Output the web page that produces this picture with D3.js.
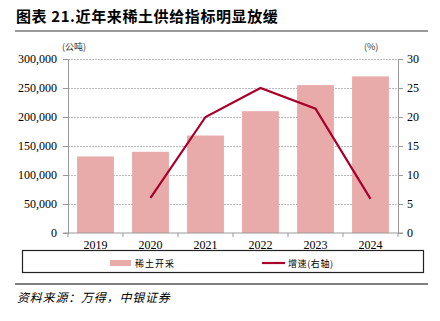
<!DOCTYPE html>
<html><head><meta charset="utf-8">
<script src="https://cdn.jsdelivr.net/npm/d3@7"></script>
<style>body{margin:0;background:#fff}svg{display:block}</style>
</head><body>
<script>
const years = ["2019","2020","2021","2022","2023","2024"];
const quota = [132000,140000,168000,210000,255000,270000];
const growth = [null,6.06,20.0,25.0,21.43,5.88];
const leftTicks = [0,50000,100000,150000,200000,250000,300000];
const rightTicks = [0,5,10,15,20,25,30];

const W=440,H=321;
const m={l:68,r:42,t:59,b:88};
const svg=d3.select("body").append("svg").attr("width",W).attr("height",H);
const cjk="'Noto Sans CJK SC',sans-serif";
const serif="'Liberation Serif','DejaVu Serif',serif";

svg.append("text").attr("x",16).attr("y",22).attr("font-family",cjk).attr("font-weight","bold")
  .attr("font-size",15).attr("letter-spacing",0.6).attr("fill","#000").text("图表 21.近年来稀土供给指标明显放缓");
svg.append("line").attr("x1",15).attr("x2",428).attr("y1",31).attr("y2",31).attr("stroke","#777").attr("stroke-width",1.5);

const x=d3.scaleBand().domain(years).range([m.l,W-m.r]).paddingInner(0.33).paddingOuter(0.165);
const y=d3.scaleLinear().domain([0,300000]).range([H-m.b,m.t]);
const y2=d3.scaleLinear().domain([0,30]).range([H-m.b,m.t]);

// grid
svg.append("g").selectAll("line").data(leftTicks.slice(1)).join("line")
  .attr("x1",m.l).attr("x2",W-m.r).attr("y1",d=>y(d)+0.5).attr("y2",d=>y(d)+0.5)
  .attr("stroke","#aaa").attr("stroke-dasharray","2,1").attr("stroke-width",0.8);

// bars
svg.append("g").selectAll("rect").data(years).join("rect")
  .attr("x",d=>x(d)).attr("width",x.bandwidth())
  .attr("y",(d,i)=>y(quota[i])).attr("height",(d,i)=>y(0)-y(quota[i]))
  .attr("fill","#E9AAAA");

// axes
const ax=svg.append("g").attr("transform",`translate(${m.l},0)`)
  .call(d3.axisLeft(y).tickValues(leftTicks).tickFormat(d3.format(",")).tickSize(5).tickPadding(6));
const ax2=svg.append("g").attr("transform",`translate(${W-m.r},0)`)
  .call(d3.axisRight(y2).tickValues(rightTicks).tickSize(5).tickPadding(4));
const xb=d3.scalePoint().domain(d3.range(7)).range([m.l,W-m.r]);
const axb=svg.append("g").attr("transform",`translate(0,${H-m.b})`);
axb.append("line").attr("x1",m.l-5).attr("x2",W-m.r+5).attr("stroke","#999");
axb.selectAll("line.t").data(d3.range(7)).join("line").attr("class","t")
  .attr("x1",d=>xb(d)).attr("x2",d=>xb(d)).attr("y1",0).attr("y2",4).attr("stroke","#999");
axb.selectAll("text").data(years).join("text")
  .attr("x",d=>x(d)+x.bandwidth()/2).attr("y",16).attr("text-anchor","middle")
  .attr("font-family",serif).attr("font-size",12).attr("fill","#000").text(d=>d);
[ax,ax2].forEach(g=>{
  g.select(".domain").attr("stroke","#999");
  g.selectAll(".tick line").attr("stroke","#999");
  g.selectAll(".tick text").attr("font-family",serif).attr("font-size",12).attr("fill","#000");
});

// line
const pts=years.map((d,i)=>[x(d)+x.bandwidth()/2,growth[i]]).filter(p=>p[1]!=null);
svg.append("path").datum(pts).attr("fill","none").attr("stroke","#A8002A").attr("stroke-width",2.2)
  .attr("d",d3.line().x(p=>p[0]).y(p=>y2(p[1])));

// units
svg.append("text").attr("x",62).attr("y",50).attr("font-family",cjk).attr("font-size",9).attr("fill","#333").text("(公吨)");
svg.append("text").attr("x",364).attr("y",50).attr("font-family",cjk).attr("font-size",9).attr("fill","#333").text("(%)");

// legend
svg.append("rect").attr("x",22.5).attr("y",250.5).attr("width",401).attr("height",22).attr("fill","none").attr("stroke","#222").attr("stroke-width",1.2);
svg.append("rect").attr("x",110).attr("y",260).attr("width",21).attr("height",6).attr("fill","#E9AAAA");
svg.append("text").attr("x",135).attr("y",267).attr("font-family",cjk).attr("font-size",9).attr("letter-spacing",1).attr("fill","#000").text("稀土开采");
svg.append("line").attr("x1",262).attr("x2",285).attr("y1",263).attr("y2",263).attr("stroke","#A8002A").attr("stroke-width",2.2);
svg.append("text").attr("x",288).attr("y",267).attr("font-family",cjk).attr("font-size",9).attr("letter-spacing",0.6).attr("fill","#000").text("增速(右轴)");

svg.append("line").attr("x1",15).attr("x2",428).attr("y1",284).attr("y2",284).attr("stroke","#000").attr("stroke-width",1);
svg.append("text").attr("x",17).attr("y",302).attr("font-family",cjk).attr("font-style","italic").attr("font-size",12).attr("letter-spacing",0.8).attr("fill","#000")
  .text("资料来源：万得，中银证券");
</script>
</body></html>
